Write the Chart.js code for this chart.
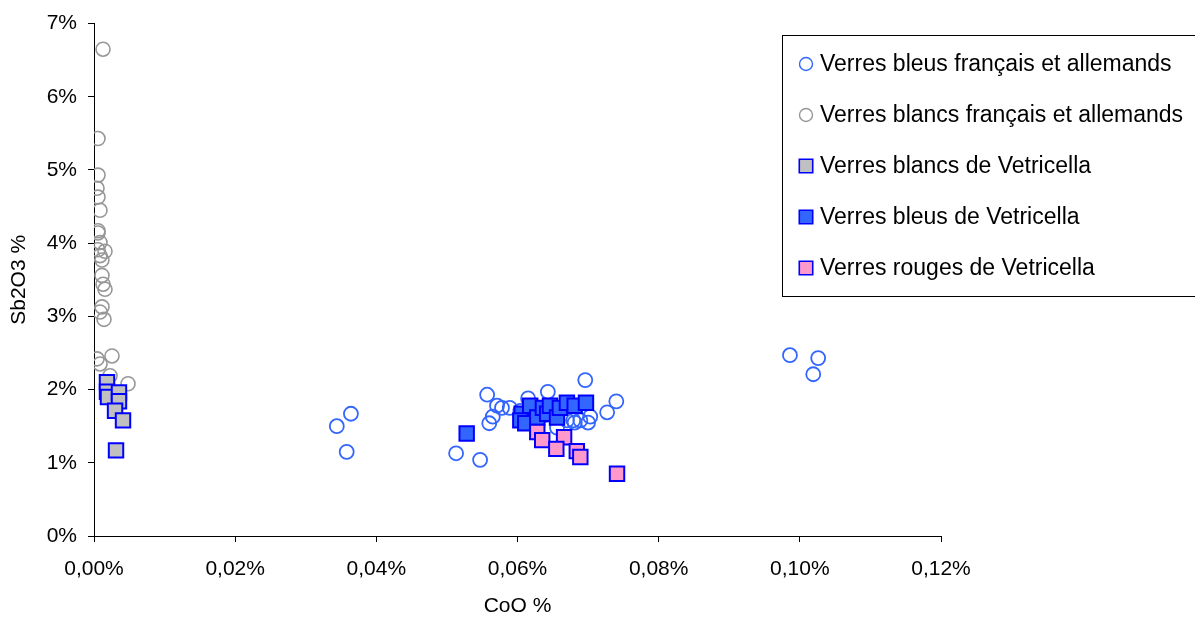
<!DOCTYPE html>
<html>
<head>
<meta charset="utf-8">
<script src="https://cdn.jsdelivr.net/npm/chart.js@4.4.1/dist/chart.umd.min.js"></script>
<style>
html,body{margin:0;padding:0;background:#fff;}
canvas{display:block;}
</style>
</head>
<body>
<canvas id="c" width="1195" height="617"></canvas>
<script>
// Series names
const seriesNames = [
  "Verres bleus français et allemands",
  "Verres blancs français et allemands",
  "Verres blancs de Vetricella",
  "Verres bleus de Vetricella",
  "Verres rouges de Vetricella"
];
// CoO % (x) and Sb2O3 % (y)
const bleusFrX = [0.0344,0.0364,0.0358,0.0513,0.0547,0.0557,0.0560,0.0565,0.0571,0.0578,0.0589,0.0604,0.0615,0.0643,0.0656,0.0670,0.0679,0.0689,0.0700,0.0696,0.0727,0.0740,0.0681,0.0703,0.0986,0.1026,0.1019,0.0618,0.0639];
const bleusFrY = [1.50,1.67,1.15,1.13,1.04,1.93,1.54,1.63,1.78,1.75,1.75,1.71,1.88,1.97,1.48,1.58,1.58,1.58,1.55,2.13,1.69,1.84,1.55,1.63,2.47,2.43,2.21,1.58,1.65];
const blancsFrX = [0.00128,0.00057,0.00057,0.00043,0.00057,0.00085,0.00057,0.00057,0.00085,0.00057,0.00156,0.00085,0.00113,0.00113,0.00128,0.00156,0.00113,0.00085,0.00142,0.00043,0.00255,0.00085,0.00227,0.00482];
const blancsFrY = [6.65,5.43,4.93,4.75,4.63,4.45,4.17,4.14,4.01,3.91,3.89,3.83,3.77,3.56,3.44,3.37,3.13,3.06,2.96,2.42,2.46,2.35,2.19,2.08];
const blancsVetX = [0.00184,0.00184,0.00198,0.00354,0.00354,0.00298,0.00411,0.00312];
const blancsVetY = [2.10,1.97,1.90,1.96,1.84,1.71,1.58,1.17];
const bleusVetX = [0.0528,0.0606,0.0604,0.0611,0.0618,0.0628,0.0636,0.0642,0.0646,0.0656,0.0660,0.0670,0.0681,0.0697];
const bleusVetY = [1.40,1.67,1.58,1.54,1.78,1.62,1.75,1.67,1.78,1.62,1.75,1.82,1.78,1.82];
const rougesVetX = [0.0628,0.0635,0.0666,0.0655,0.0684,0.0689,0.0741];
const rougesVetY = [1.42,1.31,1.35,1.19,1.16,1.08,0.85];
// Axis ticks
const xTicks = [0,0.02,0.04,0.06,0.08,0.10,0.12];
const yTicks = [0,1,2,3,4,5,6,7];

const pts = (xs, ys) => xs.map((x, i) => ({x: x, y: ys[i]}));
const FONT = "'Liberation Sans', Arial, sans-serif";

const datasets = [
  {label: seriesNames[0], data: pts(bleusFrX, bleusFrY), pointStyle: 'circle', pointRadius: 7,
   backgroundColor: 'rgba(255,255,255,0)', borderColor: '#3366FF', borderWidth: 1.8, order: 5},
  {label: seriesNames[1], data: pts(blancsFrX, blancsFrY), pointStyle: 'circle', pointRadius: 7,
   backgroundColor: 'rgba(255,255,255,0)', borderColor: '#979797', borderWidth: 1.6, order: 4},
  {label: seriesNames[2], data: pts(blancsVetX, blancsVetY), pointStyle: 'rect', pointRadius: 10.2,
   backgroundColor: '#C0C0C0', borderColor: '#0000FF', borderWidth: 2, order: 3},
  {label: seriesNames[3], data: pts(bleusVetX, bleusVetY), pointStyle: 'rect', pointRadius: 10.2,
   backgroundColor: '#3366FF', borderColor: '#0000FF', borderWidth: 2, order: 2},
  {label: seriesNames[4], data: pts(rougesVetX, rougesVetY), pointStyle: 'rect', pointRadius: 10.2,
   backgroundColor: '#FF99CC', borderColor: '#0000FF', borderWidth: 2, order: 1}
];

const legendPlugin = {
  id: 'boxLegend',
  afterDraw(chart) {
    const ctx = chart.ctx;
    ctx.save();
    ctx.strokeStyle = '#000';
    ctx.lineWidth = 1;
    ctx.strokeRect(782.5, 35.5, 430, 261);
    const ys = [64, 115, 166, 217, 268];
    ctx.font = '23px ' + FONT;
    ctx.textBaseline = 'middle';
    ctx.textAlign = 'left';
    chart.data.datasets.forEach((ds, i) => {
      const isRect = ds.pointStyle === 'rect';
      ctx.fillStyle = ds.backgroundColor;
      ctx.strokeStyle = ds.borderColor;
      ctx.lineWidth = isRect ? 1.6 : 1.4;
      Chart.helpers.drawPoint(ctx, {pointStyle: ds.pointStyle, radius: isRect ? 9.5 : 6.5, borderWidth: ctx.lineWidth, rotation: 0}, 806, ys[i]);
      ctx.fillStyle = '#000';
      ctx.fillText(ds.label, 820, ys[i] + 1);
    });
    ctx.restore();
  }
};

new Chart(document.getElementById('c'), {
  type: 'scatter',
  data: {datasets: datasets},
  plugins: [legendPlugin],
  options: {
    responsive: false,
    animation: false,
    events: [],
    layout: {padding: {left: 0, top: 18, right: 254, bottom: 0}},
    plugins: {legend: {display: false}, tooltip: {enabled: false}},
    scales: {
      x: {
        type: 'linear', min: 0, max: 0.12,
        afterBuildTicks: (s) => { s.ticks = xTicks.map(v => ({value: v})); },
        afterFit: (s) => { s.height = 81; },
        grid: {display: true, drawOnChartArea: false, drawTicks: true, tickLength: 6, color: '#000', lineWidth: 1},
        border: {display: true, color: '#000', width: 1},
        ticks: {color: '#000', font: {family: FONT, size: 21}, padding: 15, maxRotation: 0,
          callback: (v) => v.toFixed(2).replace('.', ',') + '%'},
        title: {display: true, text: 'CoO %', color: '#000', font: {family: FONT, size: 21}, padding: {top: 0, bottom: -2}}
      },
      y: {
        type: 'linear', min: 0, max: 7,
        afterBuildTicks: (s) => { s.ticks = yTicks.map(v => ({value: v})); },
        afterFit: (s) => { s.width = 94; },
        grid: {display: true, drawOnChartArea: false, drawTicks: true, tickLength: 6, color: '#000', lineWidth: 1},
        border: {display: true, color: '#000', width: 1},
        ticks: {color: '#000', font: {family: FONT, size: 21}, padding: 11,
          callback: (v) => v + '%'},
        title: {display: true, text: 'Sb2O3 %', color: '#000', font: {family: FONT, size: 21}, padding: {top: 7, bottom: 0}}
      }
    }
  }
});
</script>
</body>
</html>
